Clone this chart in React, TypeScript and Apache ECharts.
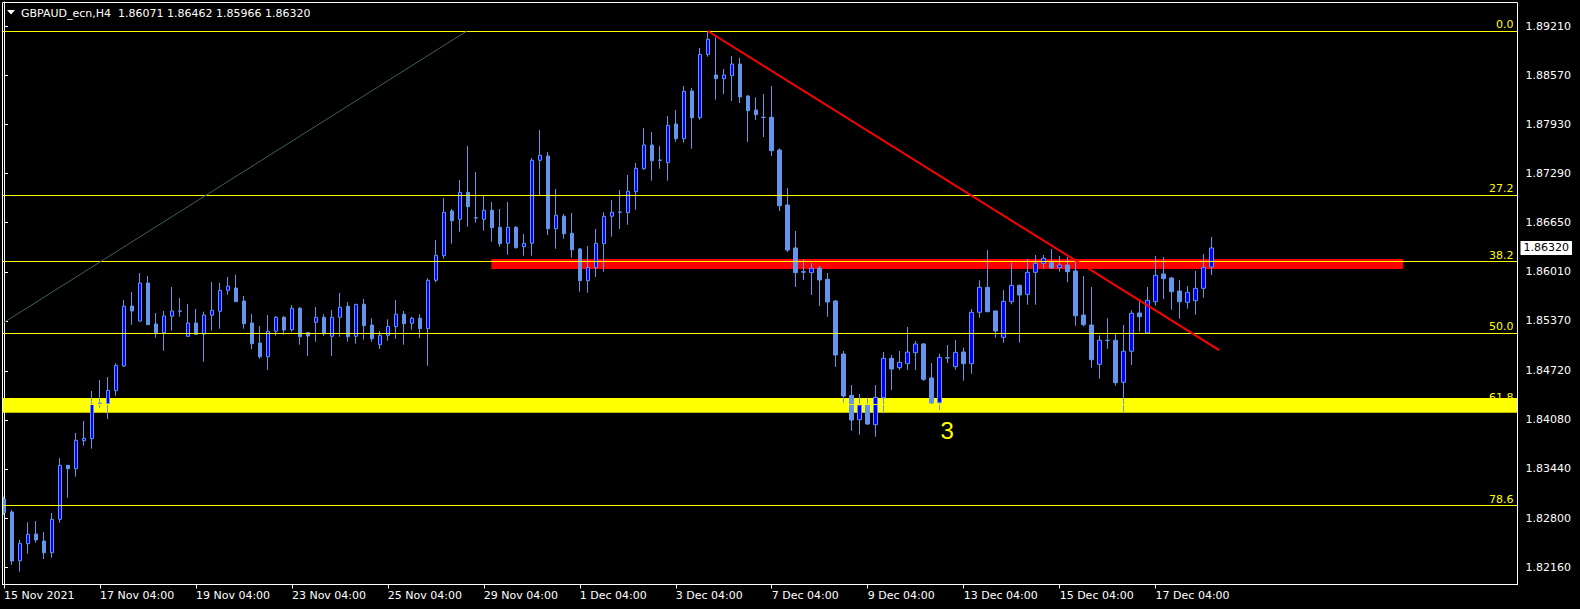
import React, { useEffect, useRef } from "react";
import * as echarts from "echarts";

const FONT = "DejaVu Sans";

// OHLC of GBPAUD H4 bars
const open = [
  1.83049, 1.8288, 1.82245, 1.82467, 1.82593, 1.82502, 1.82349, 1.82784, 1.83488, 1.83444,
  1.83809, 1.83835, 1.84293, 1.84291, 1.8446, 1.84782, 1.85564, 1.85368, 1.85863, 1.85329,
  1.85216, 1.8543, 1.85495, 1.85169, 1.85342, 1.85199, 1.85443, 1.85495, 1.85768, 1.85798,
  1.85629, 1.85342, 1.85082, 1.84903, 1.85234, 1.85417, 1.85255, 1.85534, 1.85216, 1.85351,
  1.85417, 1.85169, 1.85417, 1.8556, 1.85169, 1.85586, 1.85316, 1.8506, 1.85182, 1.85294,
  1.85456, 1.85338, 1.85404, 1.85268, 1.85899, 1.86219, 1.86802, 1.86693, 1.87045, 1.86714,
  1.86693, 1.86811, 1.86589, 1.86381, 1.86589, 1.86337, 1.86381, 1.87462, 1.87518, 1.86571,
  1.86733, 1.86511, 1.86307, 1.85894, 1.86063, 1.86376, 1.86733, 1.86785, 1.8678, 1.87053,
  1.87353, 1.87662, 1.87466, 1.87431, 1.87935, 1.87744, 1.88365, 1.88017, 1.88843, 1.88574,
  1.88526, 1.88565, 1.88717, 1.883, 1.88118, 1.88023, 1.88023, 1.87596, 1.8688, 1.8632,
  1.86011, 1.85998, 1.86059, 1.85912, 1.85629, 1.84938, 1.844, 1.84082, 1.84274, 1.84017,
  1.84369, 1.84882, 1.8476, 1.84812, 1.84955, 1.85069, 1.84626, 1.84304, 1.8489, 1.84773,
  1.84964, 1.84812, 1.85482, 1.85807, 1.85499, 1.85156, 1.8562, 1.85833, 1.85716, 1.86003,
  1.8612, 1.86128, 1.86063, 1.86098, 1.8602, 1.85446, 1.85316, 1.84804, 1.85117, 1.85117,
  1.8457, 1.84974, 1.85473, 1.85212, 1.8562, 1.85981, 1.85929, 1.85759, 1.85612, 1.85633,
  1.85794, 1.86071,
];
const high = [
  1.83079, 1.82906, 1.82515, 1.82745, 1.82762, 1.82619, 1.82867, 1.83583, 1.83492, 1.83909,
  1.84065, 1.84456, 1.846, 1.84639, 1.84817, 1.85642, 1.85746, 1.85994, 1.85955, 1.85473,
  1.85499, 1.85811, 1.85668, 1.8559, 1.85525, 1.8549, 1.85877, 1.85867, 1.85942, 1.85972,
  1.85694, 1.8546, 1.85303, 1.85446, 1.85434, 1.85434, 1.85577, 1.85551, 1.85225, 1.85551,
  1.85456, 1.85512, 1.85733, 1.85616, 1.8559, 1.85655, 1.85404, 1.85238, 1.8539, 1.85642,
  1.85499, 1.85424, 1.85456, 1.85925, 1.86424, 1.86971, 1.86828, 1.87206, 1.87649, 1.8731,
  1.86997, 1.86919, 1.86828, 1.86919, 1.86606, 1.86502, 1.87492, 1.87857, 1.8757, 1.87088,
  1.86763, 1.86776, 1.8632, 1.86346, 1.86567, 1.86785, 1.86945, 1.87075, 1.87271, 1.87427,
  1.87883, 1.87831, 1.87649, 1.8804, 1.88118, 1.8843, 1.88404, 1.88926, 1.89147, 1.89065,
  1.88652, 1.88821, 1.88799, 1.88313, 1.88283, 1.88326, 1.8843, 1.87619, 1.87101, 1.86541,
  1.86172, 1.86124, 1.86085, 1.85994, 1.85642, 1.84977, 1.84534, 1.84417, 1.84369, 1.84534,
  1.84964, 1.84925, 1.84977, 1.8529, 1.85108, 1.85082, 1.84821, 1.84942, 1.85056, 1.85121,
  1.85021, 1.85525, 1.85899, 1.86293, 1.85508, 1.85772, 1.86128, 1.85844, 1.86176, 1.86228,
  1.86228, 1.86307, 1.86215, 1.86202, 1.86141, 1.85955, 1.85811, 1.85182, 1.85404, 1.85203,
  1.85316, 1.85508, 1.85629, 1.85811, 1.86215, 1.86202, 1.85942, 1.85903, 1.85824, 1.8602,
  1.86241, 1.86462,
];
const low = [
  1.82841, 1.82189, 1.82102, 1.82336, 1.8248, 1.82267, 1.82284, 1.8274, 1.83066, 1.8334,
  1.83744, 1.83705, 1.84239, 1.84091, 1.84395, 1.84769, 1.8532, 1.85359, 1.85316, 1.85151,
  1.84981, 1.85242, 1.85424, 1.85164, 1.85191, 1.84838, 1.85242, 1.85268, 1.85711, 1.85616,
  1.85268, 1.85, 1.84877, 1.8473, 1.85177, 1.8519, 1.85229, 1.8506, 1.84912, 1.85099,
  1.85173, 1.84912, 1.85164, 1.85099, 1.85073, 1.85125, 1.85099, 1.85004, 1.85112, 1.85138,
  1.8506, 1.85255, 1.85147, 1.84786, 1.85873, 1.8618, 1.86376, 1.86532, 1.86597, 1.86649,
  1.86545, 1.86402, 1.86337, 1.86232, 1.86313, 1.86219, 1.86219, 1.8701, 1.86489, 1.8631,
  1.86441, 1.86193, 1.8575, 1.85737, 1.85942, 1.86011, 1.86467, 1.86567, 1.86623, 1.86819,
  1.87336, 1.87197, 1.87353, 1.87197, 1.87705, 1.87692, 1.87613, 1.87991, 1.88812, 1.88252,
  1.88326, 1.88235, 1.88209, 1.87701, 1.87987, 1.87766, 1.87518, 1.86802, 1.86267, 1.85811,
  1.85903, 1.85707, 1.85564, 1.85424, 1.84769, 1.84304, 1.83939, 1.83887, 1.84013, 1.83861,
  1.84166, 1.84469, 1.8473, 1.8473, 1.8473, 1.84587, 1.84287, 1.84209, 1.84821, 1.84734,
  1.84591, 1.84682, 1.85411, 1.85482, 1.85151, 1.85086, 1.85586, 1.85086, 1.85581, 1.85581,
  1.8605, 1.86046, 1.86011, 1.85873, 1.85307, 1.85299, 1.8476, 1.84617, 1.85007, 1.84525,
  1.84183, 1.84795, 1.85229, 1.85205, 1.85568, 1.85655, 1.85516, 1.85398, 1.85529, 1.85451,
  1.85672, 1.85966,
];
const close = [
  1.82871, 1.82241, 1.82472, 1.82589, 1.82515, 1.82349, 1.82784, 1.83488, 1.83444, 1.83814,
  1.8384, 1.84283, 1.843, 1.84465, 1.84791, 1.8556, 1.85499, 1.85863, 1.8532, 1.85216,
  1.85434, 1.85499, 1.85499, 1.85342, 1.85195, 1.85446, 1.85508, 1.85768, 1.85824, 1.8562,
  1.85333, 1.85073, 1.84903, 1.85234, 1.85417, 1.85251, 1.85534, 1.85164, 1.85173, 1.85417,
  1.85203, 1.85417, 1.85547, 1.85164, 1.85586, 1.85307, 1.85138, 1.85182, 1.85299, 1.85456,
  1.85333, 1.85404, 1.85268, 1.85899, 1.86224, 1.86785, 1.86675, 1.87045, 1.86858, 1.8671,
  1.86811, 1.86584, 1.86376, 1.86589, 1.86324, 1.86381, 1.87462, 1.87527, 1.86571, 1.86746,
  1.86506, 1.86297, 1.85894, 1.86068, 1.86381, 1.86733, 1.86785, 1.86789, 1.87058, 1.87358,
  1.87662, 1.87457, 1.87462, 1.87918, 1.87744, 1.88361, 1.88017, 1.88843, 1.89039, 1.88526,
  1.88574, 1.88717, 1.88287, 1.88109, 1.88057, 1.8802, 1.87587, 1.86871, 1.86293, 1.85998,
  1.86005, 1.86055, 1.85903, 1.85616, 1.84925, 1.84391, 1.84078, 1.84274, 1.84026, 1.84374,
  1.84882, 1.84743, 1.8483, 1.84964, 1.85069, 1.84609, 1.843, 1.84895, 1.84886, 1.8496,
  1.84812, 1.85482, 1.85807, 1.8549, 1.85238, 1.85625, 1.85833, 1.85707, 1.86003, 1.8612,
  1.86185, 1.86059, 1.86098, 1.86011, 1.85437, 1.8532, 1.84864, 1.85117, 1.85113, 1.84564,
  1.84974, 1.85469, 1.85424, 1.85638, 1.85964, 1.8592, 1.8575, 1.8562, 1.85742, 1.85794,
  1.86068, 1.8632,
];

const TOTAL_SLOTS = 190; // bars + empty chart shift on the right
const xTickLabels = [
  "15 Nov 2021", "17 Nov 04:00", "19 Nov 04:00", "23 Nov 04:00", "25 Nov 04:00",
  "29 Nov 04:00", "1 Dec 04:00", "3 Dec 04:00", "7 Dec 04:00", "9 Dec 04:00",
  "13 Dec 04:00", "15 Dec 04:00", "17 Dec 04:00",
];
const X_TICK_STEP = 12;
const yTickValues = [
  1.8921, 1.8857, 1.8793, 1.8729, 1.8665, 1.8601, 1.8537, 1.8472, 1.8408, 1.8344, 1.828, 1.8216,
];
const Y_MIN = 1.81935;
const Y_MAX = 1.89525;

const fibLevels = ["0.0", "27.2", "38.2", "50.0", "61.8", "78.6"];
const fibPrices = [1.89147, 1.87007, 1.86141, 1.85213, 1.84285, 1.82963];
const yellowZone = [1.84365, 1.84174];
const redZone = { x: [60.94, 174.94], y: [1.86176, 1.86046] };
const redTrend = [[88, 1.89147], [151.94, 1.8499]];
const grayTrend = [[-0.06, 1.85346], [57.88, 1.89147]];
const wavePoint = { x: 117.94, y: 1.83948, text: "3" };

const MONTHS = ["Jan", "Feb", "Mar", "Apr", "May", "Jun", "Jul", "Aug", "Sep", "Oct", "Nov", "Dec"];
function buildCategories(): string[] {
  const out: string[] = [];
  let t = Date.UTC(2021, 10, 15, 4);
  while (out.length < TOTAL_SLOTS) {
    const d = new Date(t);
    const wd = d.getUTCDay();
    if (wd !== 0 && wd !== 6) {
      const hh = String(d.getUTCHours()).padStart(2, "0");
      out.push(`${d.getUTCDate()} ${MONTHS[d.getUTCMonth()]} ${hh}:00`);
    }
    t += 4 * 3600 * 1000;
  }
  return out;
}

export default function App() {
  const ref = useRef<HTMLDivElement>(null);
  useEffect(() => {
    document.body.style.margin = "0";
    document.body.style.background = "#000";
    const chart = echarts.init(ref.current!, undefined, { renderer: "svg" });
    const categories = buildCategories();
    const candles = open.map((o, i) => [o, close[i], low[i], high[i]]);
    const lastClose = close[close.length - 1];
    const txt = { fontFamily: FONT, fontSize: 11 };
    const tickShown = (i: number) => i % X_TICK_STEP === 0 && i / X_TICK_STEP < xTickLabels.length;

    chart.setOption({
      animation: false,
      backgroundColor: "#000",
      grid: { left: -0.5, right: 60.5, top: 2, bottom: 24.5, containLabel: false },
      xAxis: [
        {
          type: "category",
          data: categories,
          boundaryGap: true,
          axisLine: { show: true, lineStyle: { color: "#fff", width: 1 } },
          axisTick: {
            show: true,
            alignWithLabel: true,
            length: 4,
            lineStyle: { color: "#fff" },
            interval: tickShown,
          },
          axisLabel: {
            ...txt,
            color: "#fff",
            align: "left",
            margin: 5,
            interval: tickShown,
            formatter: (_v: string, i: number) => xTickLabels[i / X_TICK_STEP] ?? "",
          },
          splitLine: { show: false },
        },
        { type: "value", min: -0.5, max: TOTAL_SLOTS - 0.5, show: false },
      ],
      yAxis: {
        type: "value",
        position: "right",
        offset: -2,
        min: Y_MIN,
        max: Y_MAX,
        scale: true,
        axisLine: { show: true, lineStyle: { color: "#fff" } },
        axisTick: { show: true, length: 4, lineStyle: { color: "#fff" }, customValues: yTickValues },
        axisLabel: {
          ...txt,
          color: "#fff",
          margin: 8,
          customValues: yTickValues,
          formatter: (v: number) => v.toFixed(5),
        },
        splitLine: { show: false },
      },
      series: [
        {
          type: "line",
          xAxisIndex: 1,
          data: [],
          z: 1,
          silent: true,
          markArea: {
            silent: true,
            itemStyle: { color: "#ff0000", opacity: 1 },
            data: [[{ xAxis: redZone.x[0], yAxis: redZone.y[0] }, { xAxis: redZone.x[1], yAxis: redZone.y[1] }]],
          },
        },
        {
          type: "line",
          xAxisIndex: 1,
          data: [],
          z: 2,
          silent: true,
          markLine: {
            silent: true,
            precision: 5,
            symbol: ["none", "none"],
            lineStyle: { color: "#ffff00", width: 1, type: "solid" },
            label: { ...txt, position: "insideEndTop", color: "#ffff00", distance: [6, 1] },
            data: fibPrices.map((p, i) => ({ yAxis: p, label: { formatter: fibLevels[i] } })),
          },
        },
        {
          type: "line",
          xAxisIndex: 1,
          data: [],
          z: 3,
          silent: true,
          markArea: {
            silent: true,
            itemStyle: { color: "#ffff00", opacity: 1 },
            data: [[{ yAxis: yellowZone[0] }, { yAxis: yellowZone[1] }]],
          },
        },
        {
          type: "candlestick",
          data: candles,
          barWidth: 4,
          z: 4,
          silent: true,
          itemStyle: {
            color: "#0000ff",
            color0: "#6495ed",
            borderColor: "#6495ed",
            borderColor0: "#6495ed",
            borderWidth: 1,
          },
        },
        {
          type: "line",
          xAxisIndex: 1,
          data: [],
          z: 6,
          silent: true,
          markLine: {
            silent: true,
            precision: 5,
            symbol: ["none", "none"],
            lineStyle: { color: "rgba(0,0,0,0)", width: 1, type: "solid" },
            label: {
              ...txt,
              show: true,
              position: "end",
              color: "#000",
              backgroundColor: "#ffffff",
              padding: [2, 3, 1, 3],
              distance: 1,
              formatter: lastClose.toFixed(5),
            },
            data: [{ yAxis: lastClose }],
          },
        },
        {
          type: "line",
          xAxisIndex: 1,
          data: grayTrend,
          z: 5,
          silent: true,
          symbol: "none",
          lineStyle: { color: "#3f5f5f", width: 1 },
        },
        {
          type: "line",
          xAxisIndex: 1,
          data: redTrend,
          z: 5,
          silent: true,
          symbol: "none",
          lineStyle: { color: "#ff0000", width: 2 },
          markPoint: {
            silent: true,
            symbol: "circle",
            symbolSize: 1,
            itemStyle: { color: "rgba(0,0,0,0)" },
            label: {
              show: true,
              position: "inside",
              formatter: wavePoint.text,
              color: "#ffff00",
              fontSize: 24,
              fontFamily: "Liberation Sans",
            },
            data: [{ coord: [wavePoint.x, wavePoint.y] }],
          },
        },
      ],
      graphic: [
        { type: "rect", z: 99, shape: { x: 0, y: 0, width: 2, height: 609 }, style: { fill: "#000" } },
        { type: "rect", z: 99, shape: { x: 1518, y: 0, width: 2, height: 609 }, style: { fill: "#000" } },
        {
          type: "rect",
          z: 100,
          shape: { x: 2.5, y: 2.5, width: 1515, height: 582 },
          style: { fill: "none", stroke: "#fff", lineWidth: 1 },
        },
        {
          type: "polygon",
          z: 100,
          shape: { points: [[7, 10], [15, 10], [11, 14.5]] },
          style: { fill: "#fff" },
        },
        {
          type: "text",
          z: 100,
          x: 21,
          y: 13,
          style: {
            text: "GBPAUD_ecn,H4  1.86071 1.86462 1.85966 1.86320",
            fill: "#fff",
            font: `11px "${FONT}"`,
            verticalAlign: "middle",
          },
        },
      ],
    });
    return () => chart.dispose();
  }, []);
  return <div ref={ref} style={{ width: 1580, height: 609, background: "#000" }} />;
}
